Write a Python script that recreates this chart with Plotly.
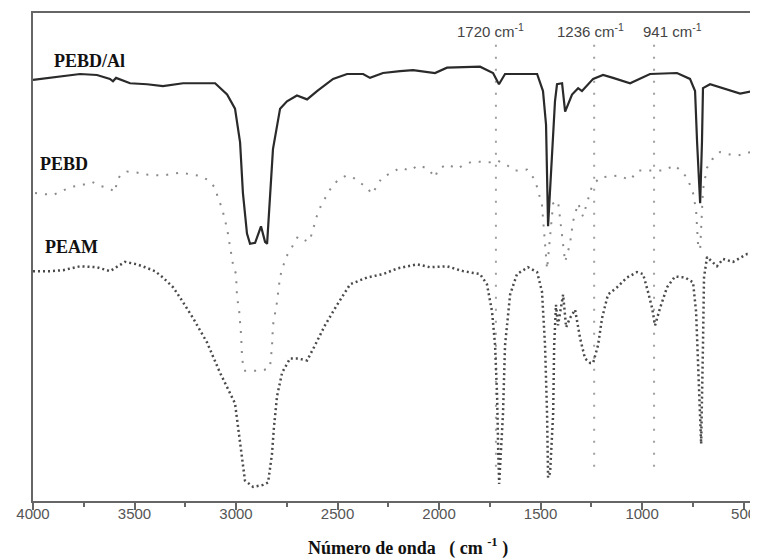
import plotly.graph_objects as go

# ---- PEBD/Al (solid) ----
wn_al = [4000, 3768, 3685, 3621, 3606, 3591, 3522, 3438, 3360, 3261, 3103, 3044, 3005, 2980, 2966,
         2946, 2931, 2906, 2877, 2857, 2847, 2833, 2818, 2783, 2749, 2700, 2650, 2601, 2522, 2453,
         2374, 2340, 2276, 2192, 2128, 2020, 1961, 1798, 1734, 1705, 1675, 1601, 1517, 1488, 1473,
         1463, 1443, 1429, 1419, 1394, 1379, 1345, 1315, 1296, 1241, 1192, 1143, 1059, 961, 828,
         764, 739, 729, 714, 705, 700, 665, 581, 517, 453, 429]
t_al = [86.3, 87.5, 87.3, 86.5, 86.0, 86.7, 85.6, 85.4, 85.0, 85.6, 85.6, 83.3, 80.4, 73.5, 63.1,
        54.8, 52.7, 52.9, 56.3, 53.1, 52.7, 63.1, 72.1, 80.4, 81.9, 83.1, 82.3, 84.0, 86.5, 87.5,
        87.5, 86.7, 87.7, 88.1, 88.3, 87.7, 88.8, 89.0, 87.7, 85.4, 87.5, 87.5, 87.5, 84.0, 77.1,
        56.3, 70.0, 81.9, 85.4, 85.6, 79.8, 83.3, 84.6, 84.0, 86.5, 87.3, 86.7, 85.6, 87.5, 87.7,
        86.5, 84.0, 73.5, 61.0, 73.5, 84.6, 85.4, 84.4, 83.5, 84.0, 84.4]

# ---- PEBD (light dotted) ----
wn_pebd = [3990, 3901, 3842, 3808, 3768, 3709, 3670, 3621, 3596, 3586, 3571, 3537, 3488, 3448, 3360,
           3276, 3187, 3138, 3103, 3089, 3069, 3044, 3025, 3015, 3000, 2995, 2985, 2980, 2975, 2970,
           2961, 2872, 2833, 2823, 2818, 2798, 2783, 2754, 2734, 2695, 2645, 2631, 2601, 2581, 2537,
           2502, 2458, 2424, 2355, 2330, 2305, 2281, 2232, 2192, 2143, 2103, 2054, 2020, 2005, 1961,
           1911, 1882, 1833, 1749, 1714, 1665, 1626, 1567, 1527, 1493, 1478, 1468, 1438, 1414, 1379,
           1355, 1340, 1315, 1291, 1266, 1246, 1207, 1118, 1059, 1020, 897, 838, 778, 749, 734,
           724, 714, 700, 680, 655, 616, 567, 527, 433]
t_pebd = [63.1, 62.7, 63.8, 64.4, 64.6, 65.4, 64.6, 64.0, 63.3, 65.6, 66.7, 67.5, 67.3, 66.9, 66.7,
          67.3, 66.7, 65.8, 64.2, 62.1, 60.0, 55.8, 51.0, 48.5, 46.5, 41.7, 39.2, 36.5, 34.0, 29.2,
          26.7, 26.7, 27.3, 31.5, 36.0, 40.8, 46.0, 50.0, 51.3, 54.2, 53.1, 54.2, 58.5, 60.6, 63.8,
          65.6, 66.7, 66.3, 64.2, 62.9, 64.6, 66.3, 67.3, 68.3, 67.7, 68.8, 68.1, 66.3, 67.9, 69.0,
          68.1, 68.8, 69.6, 69.4, 69.8, 68.8, 67.7, 67.9, 65.8, 60.6, 52.7, 47.5, 61.0, 61.5, 49.0,
          52.7, 57.3, 61.0, 58.3, 61.7, 64.6, 66.3, 66.7, 65.8, 67.7, 67.7, 68.8, 66.3, 63.1, 59.6,
          52.3, 51.5, 63.8, 68.3, 70.0, 71.5, 71.0, 70.8, 71.9]

# ---- PEAM (dark dotted) ----
wn_peam = [4000, 3916, 3852, 3768, 3685, 3621, 3547, 3488, 3448, 3399, 3360, 3310, 3276, 3212, 3143,
           3079, 3005, 2990, 2970, 2956, 2916, 2867, 2842, 2823, 2813, 2798, 2773, 2734, 2695, 2650,
           2611, 2562, 2502, 2438, 2355, 2276, 2202, 2108, 2044, 1961, 1882, 1798, 1764, 1739, 1724,
           1714, 1709, 1704, 1685, 1675, 1650, 1616, 1562, 1517, 1493, 1478, 1468, 1463, 1453, 1438,
           1433, 1424, 1414, 1389, 1374, 1355, 1330, 1305, 1281, 1256, 1241, 1217, 1197, 1168, 1123,
           1074, 1025, 995, 971, 951, 936, 911, 877, 838, 788, 749, 734, 724, 714, 709,
           700, 695, 680, 631, 601, 552, 483, 433]
t_peam = [47.1, 47.1, 47.3, 48.1, 47.9, 47.1, 49.0, 48.5, 47.9, 47.1, 45.8, 43.8, 41.7, 37.5, 32.5,
          26.3, 20.0, 15.2, 9.6, 4.2, 2.9, 3.3, 3.8, 9.6, 15.2, 21.5, 26.3, 29.2, 29.2, 28.8,
          31.9, 36.0, 40.2, 44.4, 45.8, 46.5, 47.7, 48.5, 47.9, 48.1, 47.1, 46.5, 44.4, 38.8, 31.9,
          21.5, 11.0, 3.5, 17.9, 31.9, 42.3, 46.5, 47.9, 46.9, 42.9, 31.9, 17.9, 4.8, 5.8, 17.9,
          31.9, 40.2, 36.0, 42.3, 35.6, 37.5, 39.2, 33.3, 29.2, 28.3, 28.3, 31.9, 37.5, 42.3, 43.8,
          45.8, 46.9, 46.5, 42.9, 39.6, 36.0, 39.6, 43.8, 46.0, 45.8, 44.8, 38.8, 28.3, 17.9, 11.7,
          31.9, 45.8, 50.0, 48.1, 49.6, 49.0, 50.6, 50.6]

# ---- reference band markers ----
band_wn = [1720, 1236, 941]
band_labels = ["1720 cm<sup>-1</sup>", "1236 cm<sup>-1</sup>", "941 cm<sup>-1</sup>"]
band_label_wn = [1745, 1256, 852]
band_top, band_bottom = 93.5, 6.5

series_names = ["PEBD/Al", "PEBD", "PEAM"]
series_label_pos = [(3906, 90.2), (3975, 69.0), (3951, 52.1)]

x_ticks = [4000, 3500, 3000, 2500, 2000, 1500, 1000, 500]

fig = go.Figure()

for b in band_wn:
    fig.add_trace(go.Scatter(x=[b, b], y=[band_top, band_bottom], mode="lines",
                             line=dict(color="#a0a0a0", width=2, dash="2px,10px"),
                             hoverinfo="skip"))

fig.add_trace(go.Scatter(x=wn_pebd, y=t_pebd, mode="lines", name="PEBD",
                         line=dict(color="#8a8a8a", width=2, dash="2px,8px")))
fig.add_trace(go.Scatter(x=wn_peam, y=t_peam, mode="lines", name="PEAM",
                         line=dict(color="#4a4a4a", width=2.5, dash="2px,3px")))
fig.add_trace(go.Scatter(x=wn_al, y=t_al, mode="lines", name="PEBD/Al",
                         line=dict(color="#2a2a2a", width=2.2)))

for name, (xw, yv) in zip(series_names, series_label_pos):
    fig.add_annotation(x=xw, y=yv, text="<b>" + name + "</b>", showarrow=False,
                       xanchor="left", yanchor="middle",
                       font=dict(family="Liberation Serif", size=18, color="#111"))

for lab, xw in zip(band_labels, band_label_wn):
    fig.add_annotation(x=xw, y=96.5, text=lab, showarrow=False, xanchor="center",
                       yanchor="middle",
                       font=dict(family="Liberation Sans", size=15, color="#444"))

fig.add_annotation(xref="paper", yref="paper", x=0.517, y=-0.094,
                   text="<b>Número de onda&nbsp;&nbsp;&nbsp;( cm <sup>-1</sup> )</b>",
                   showarrow=False, xanchor="center", yanchor="middle",
                   font=dict(family="Liberation Serif", size=18, color="#111"))

# page body has an 8px default margin: the figure is sized/offset to compensate
fig.update_layout(
    width=750, height=551,
    margin=dict(l=25, r=0, t=5, b=58),
    paper_bgcolor="white", plot_bgcolor="white",
    showlegend=False,
    xaxis=dict(range=[4000, 429], tickvals=x_ticks, ticks="outside", ticklen=7,
               tickcolor="#666", tickwidth=1.5, ticklabelstandoff=-9,
               minor=dict(dtick=250, tick0=0, ticks="outside", ticklen=4, tickcolor="#666"),
               showline=True, linecolor="#666", linewidth=2, mirror=True,
               showgrid=False, zeroline=False,
               tickfont=dict(family="Liberation Sans", size=15, color="#555")),
    yaxis=dict(range=[0, 100], showticklabels=False, ticks="", showline=True,
               linecolor="#666", linewidth=2, showgrid=False, zeroline=False),
)

fig.write_html("out.html")
